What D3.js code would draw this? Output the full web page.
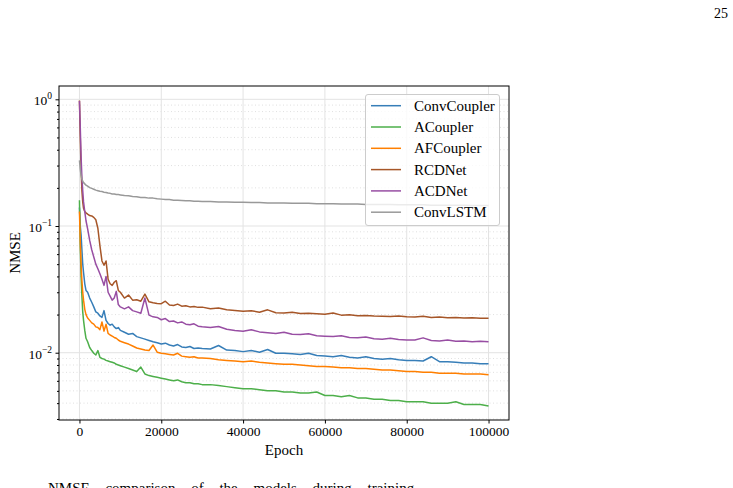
<!DOCTYPE html>
<html>
<head>
<meta charset="utf-8">
<script src="https://cdn.jsdelivr.net/npm/d3@7"></script>
<style>
  html, body { margin: 0; padding: 0; background: #fff; }
  svg { display: block; font-family: "Liberation Serif", "Times New Roman", serif; }
</style>
</head>
<body>
<svg id="chart" width="733" height="488"></svg>
<script>
// training epochs at which the curves were sampled
var epochs = [0, 200, 400, 600, 800, 1000, 1300, 1600, 2000, 2500, 3000, 3500, 4000, 4500, 5000,
    5500, 6000, 6500, 7000, 7500, 8000, 8500, 9000, 9500, 10000,
    11000, 12000, 13000, 14000, 15000, 16000, 17000, 18000, 19000, 20000,
    21000, 22000, 23000, 24000, 25000, 26000, 27000, 28000, 29000, 30000,
    32000, 34000, 36000, 38000, 40000, 42000, 44000, 46000, 48000, 50000,
    52000, 54000, 56000, 58000, 60000, 62000, 64000, 66000, 68000, 70000,
    72000, 74000, 76000, 78000, 80000, 82000, 84000, 86000, 88000, 90000,
    92000, 94000, 96000, 98000, 100000];

var convCoupler = [0.14, 0.1, 0.085, 0.065, 0.05, 0.043, 0.035, 0.031, 0.03, 0.027, 0.025, 0.023, 0.021, 0.0205, 0.0195,
    0.019, 0.0215, 0.018, 0.017, 0.0165, 0.0168, 0.016, 0.0155, 0.0158, 0.015,
    0.0145, 0.014, 0.0142, 0.0134, 0.0131, 0.0128, 0.0125, 0.0122, 0.012, 0.0117,
    0.0119, 0.0115, 0.0113, 0.0116, 0.0111, 0.011, 0.0112, 0.0108, 0.0109, 0.0108,
    0.0107, 0.0114, 0.0105, 0.0104, 0.0102, 0.0104, 0.0101, 0.0106, 0.0099, 0.0099,
    0.0098, 0.0097, 0.0099, 0.0095, 0.0094, 0.0093, 0.0095, 0.0092, 0.0091, 0.0093,
    0.009, 0.0089, 0.009, 0.0088, 0.0087, 0.0087, 0.0086, 0.0093, 0.0085, 0.0085,
    0.0084, 0.0083, 0.0083, 0.0082, 0.0082];

var aCoupler = [0.16, 0.07, 0.04, 0.028, 0.021, 0.018, 0.015, 0.013, 0.0122, 0.011, 0.0104, 0.0099, 0.0096, 0.0104, 0.0092,
    0.009, 0.0089, 0.0087, 0.0086, 0.0085, 0.0084, 0.0083, 0.0081, 0.008, 0.0079,
    0.0077, 0.0075, 0.0073, 0.0071, 0.0077, 0.0068, 0.0066, 0.0065, 0.0064, 0.0063,
    0.0062, 0.0061, 0.006, 0.0061, 0.0059, 0.0058, 0.0058, 0.0057, 0.0057, 0.0056,
    0.0056, 0.0055, 0.0054, 0.0053, 0.0052, 0.0052, 0.0051, 0.005, 0.005, 0.0049,
    0.0049, 0.0048, 0.0048, 0.0049, 0.0046, 0.0046, 0.0045, 0.0046, 0.0044, 0.0044,
    0.0043, 0.0043, 0.0042, 0.0042, 0.0041, 0.0041, 0.0041, 0.004, 0.004, 0.004,
    0.0041, 0.0039, 0.0039, 0.0039, 0.0038];

var afCoupler = [0.13, 0.075, 0.05, 0.037, 0.03, 0.026, 0.022, 0.02, 0.0188, 0.018, 0.0172, 0.0168, 0.016, 0.0158, 0.0152,
    0.0175, 0.0148, 0.0168, 0.0142, 0.0138, 0.0135, 0.0132, 0.013, 0.0126, 0.0123,
    0.012, 0.0117, 0.0113, 0.0109, 0.0107, 0.0105, 0.0104, 0.0115, 0.0101, 0.0099,
    0.0098, 0.0097, 0.0096, 0.0099, 0.0094, 0.0093, 0.0092, 0.0093, 0.0091, 0.0091,
    0.009, 0.0088, 0.0087, 0.0086, 0.0085, 0.0086, 0.0084, 0.0083, 0.0082, 0.0081,
    0.0081, 0.008, 0.0079, 0.0078, 0.0078, 0.0077, 0.0076, 0.0076, 0.0075, 0.0075,
    0.0074, 0.0073, 0.0073, 0.0072, 0.0071, 0.0071, 0.007, 0.007, 0.0069, 0.0069,
    0.0069, 0.0068, 0.0068, 0.0068, 0.0067];

var rcdNet = [0.98, 0.5, 0.28, 0.19, 0.155, 0.138, 0.13, 0.127, 0.124, 0.121, 0.12, 0.117, 0.112, 0.096, 0.07,
    0.053, 0.049, 0.053, 0.038, 0.035, 0.034, 0.036, 0.037, 0.031, 0.030,
    0.027, 0.0285, 0.026, 0.0262, 0.0255, 0.029, 0.0252, 0.0248, 0.0245, 0.0244,
    0.0255, 0.0238, 0.0236, 0.0242, 0.0233, 0.0235, 0.023, 0.0232, 0.0228, 0.0229,
    0.0222, 0.0225, 0.0218, 0.0215, 0.0212, 0.0214, 0.0209, 0.0218, 0.0207, 0.0206,
    0.0209, 0.0204, 0.0205, 0.0203, 0.0201, 0.0206, 0.0198, 0.0199, 0.0196, 0.0197,
    0.0195, 0.0194, 0.0193, 0.0195, 0.0192, 0.0191, 0.0194, 0.019, 0.0191, 0.0189,
    0.019, 0.0188, 0.0189, 0.0187, 0.0187];

var acdNet = [0.97, 0.6, 0.35, 0.24, 0.19, 0.155, 0.13, 0.11, 0.095, 0.077, 0.065, 0.057, 0.05, 0.046, 0.042,
    0.038, 0.034, 0.04, 0.03, 0.028, 0.026, 0.027, 0.0305, 0.024, 0.023,
    0.0222, 0.023, 0.0215, 0.021, 0.0205, 0.027, 0.0198, 0.0192, 0.019, 0.0182,
    0.0186, 0.0176, 0.0178, 0.0172, 0.0175, 0.0168, 0.0166, 0.0169, 0.0162, 0.016,
    0.0158, 0.0161, 0.0153, 0.015, 0.0148, 0.0152, 0.0146, 0.0144, 0.0142, 0.0145,
    0.014, 0.0139, 0.0141, 0.0136, 0.0135, 0.0134, 0.0136, 0.0132, 0.0131, 0.0133,
    0.0129, 0.0128, 0.013, 0.0127, 0.0126, 0.0126, 0.0131, 0.0125, 0.0124, 0.0126,
    0.0123, 0.0124, 0.0122, 0.0123, 0.0122];

var convLSTM = [0.33, 0.28, 0.25, 0.235, 0.226, 0.22, 0.215, 0.21, 0.206, 0.201, 0.198, 0.195, 0.192, 0.19, 0.188,
    0.187, 0.185, 0.184, 0.182, 0.181, 0.179, 0.179, 0.177, 0.177, 0.176,
    0.174, 0.173, 0.171, 0.170, 0.168, 0.168, 0.166, 0.166, 0.164, 0.163,
    0.162, 0.162, 0.160, 0.160, 0.159, 0.158, 0.158, 0.157, 0.157, 0.156,
    0.156, 0.155, 0.155, 0.154, 0.154, 0.153, 0.153, 0.152, 0.152, 0.152,
    0.151, 0.151, 0.151, 0.150, 0.150, 0.150, 0.149, 0.149, 0.149, 0.148,
    0.148, 0.148, 0.148, 0.147, 0.147, 0.147, 0.147, 0.146, 0.146, 0.146,
    0.146, 0.146, 0.145, 0.145, 0.145];

var seriesNames = ["ConvCoupler", "ACoupler", "AFCoupler", "RCDNet", "ACDNet", "ConvLSTM"];
var seriesValues = [convCoupler, aCoupler, afCoupler, rcdNet, acdNet, convLSTM];
var seriesColors = ["#377eb8", "#4daf4a", "#ff7f00", "#a65628", "#984ea3", "#999999"];

var xTicks = [0, 20000, 40000, 60000, 80000, 100000];
var yTicks = [1e-2, 1e-1, 1];
var yTickExp = ["\u22122", "\u22121", "0"];

// plot box (pixels)
var plotLeft = 59, plotRight = 509, plotTop = 86, plotBottom = 420;

var svg = d3.select("#chart");

var x = d3.scaleLinear().domain([-5000, 105000]).range([plotLeft, plotRight]);
var y = d3.scaleLog().domain([Math.pow(10, -2.531), Math.pow(10, 0.105)]).range([plotBottom, plotTop]);

// minor log ticks 2..9 per decade inside the domain
var yMinor = [];
[-3, -2, -1].forEach(function(e) {
    for (var k = 2; k <= 9; k++) {
        var v = k * Math.pow(10, e);
        if (v >= y.domain()[0] && v <= y.domain()[1]) yMinor.push(v);
    }
});

svg.append("defs").append("clipPath").attr("id", "plotclip")
  .append("rect").attr("x", plotLeft).attr("y", plotTop)
  .attr("width", plotRight - plotLeft).attr("height", plotBottom - plotTop);

// grid
var grid = svg.append("g");
grid.selectAll(".yminor").data(yMinor).enter().append("line")
    .attr("x1", plotLeft).attr("x2", plotRight)
    .attr("y1", function(d) { return y(d); }).attr("y2", function(d) { return y(d); })
    .attr("stroke", "#d8d8d8").attr("stroke-width", 0.8)
    .attr("stroke-dasharray", "1,2.5");
grid.selectAll(".ymajor").data(yTicks).enter().append("line")
    .attr("x1", plotLeft).attr("x2", plotRight)
    .attr("y1", function(d) { return y(d); }).attr("y2", function(d) { return y(d); })
    .attr("stroke", "#e3e3e3").attr("stroke-width", 1);
grid.selectAll(".xmajor").data(xTicks).enter().append("line")
    .attr("y1", plotTop).attr("y2", plotBottom)
    .attr("x1", function(d) { return x(d); }).attr("x2", function(d) { return x(d); })
    .attr("stroke", "#e3e3e3").attr("stroke-width", 1);

// curves
var line = d3.line()
    .x(function(d) { return x(d[0]); })
    .y(function(d) { return y(d[1]); });

var curves = svg.append("g").attr("clip-path", "url(#plotclip)");
seriesValues.forEach(function(vals, i) {
    var pts = epochs.map(function(e, j) { return [e, vals[j]]; });
    curves.append("path")
        .datum(pts)
        .attr("d", line)
        .attr("fill", "none")
        .attr("stroke", seriesColors[i])
        .attr("stroke-width", 1.5)
        .attr("stroke-linejoin", "round");
});

// frame
svg.append("rect")
    .attr("x", plotLeft).attr("y", plotTop)
    .attr("width", plotRight - plotLeft).attr("height", plotBottom - plotTop)
    .attr("fill", "none").attr("stroke", "#000").attr("stroke-width", 1);

var serif = "Liberation Serif, Times New Roman, serif";

// x axis
var xAxis = svg.append("g")
    .attr("transform", "translate(0," + plotBottom + ")")
    .call(d3.axisBottom(x).tickValues(xTicks).tickFormat(d3.format("d")).tickSize(3.5).tickPadding(3));
xAxis.attr("font-family", serif);
xAxis.select(".domain").remove();
xAxis.selectAll("text").attr("font-size", "13.5px").attr("fill", "#000");

// y axis: minor ticks then majors with superscript labels
var yMinorAxis = svg.append("g")
    .attr("transform", "translate(" + plotLeft + ",0)")
    .call(d3.axisLeft(y).tickValues(yMinor).tickFormat("").tickSize(2));
yMinorAxis.select(".domain").remove();

var yAxis = svg.append("g")
    .attr("transform", "translate(" + plotLeft + ",0)")
    .call(d3.axisLeft(y).tickValues(yTicks).tickFormat("").tickSize(3.5));
yAxis.attr("font-family", serif);
yAxis.select(".domain").remove();
yAxis.selectAll(".tick text").remove();
yAxis.selectAll(".tick").append("text")
    .attr("x", -7).attr("y", 5.5)
    .attr("text-anchor", "end")
    .attr("fill", "#000")
    .attr("font-size", "13.5px")
    .each(function(d, i) {
        var t = d3.select(this);
        t.append("tspan").text("10");
        t.append("tspan").attr("dy", -6).attr("font-size", "9.5px").text(yTickExp[i]);
    });

// axis labels
svg.append("text")
    .attr("x", (plotLeft + plotRight) / 2).attr("y", 455)
    .attr("text-anchor", "middle").attr("font-size", "15px")
    .text("Epoch");
svg.append("text")
    .attr("transform", "translate(20," + (plotTop + plotBottom) / 2 + ") rotate(-90)")
    .attr("text-anchor", "middle").attr("font-size", "15px")
    .text("NMSE");

// legend
var lg = svg.append("g");
lg.append("rect")
    .attr("x", 365.5).attr("y", 94.5).attr("width", 134).attr("height", 131)
    .attr("rx", 2.5).attr("fill", "#fff").attr("fill-opacity", 0.8)
    .attr("stroke", "#cccccc").attr("stroke-width", 1);
seriesNames.forEach(function(name, i) {
    var yy = 105.7 + i * 21.3;
    lg.append("line")
        .attr("x1", 371).attr("x2", 401).attr("y1", yy).attr("y2", yy)
        .attr("stroke", seriesColors[i]).attr("stroke-width", 1.5);
    lg.append("text")
        .attr("x", 414).attr("y", yy + 5)
        .attr("font-size", "15px").attr("fill", "#000")
        .text(name);
});

// page number and cropped caption
svg.append("text").attr("x", 728).attr("y", 18).attr("text-anchor", "end")
    .attr("font-size", "14px").text("25");
svg.append("text").attr("x", 48).attr("y", 493)
    .attr("font-size", "15px").attr("word-spacing", "12px")
    .text("NMSE comparison of the models during training");
</script>
</body>
</html>
